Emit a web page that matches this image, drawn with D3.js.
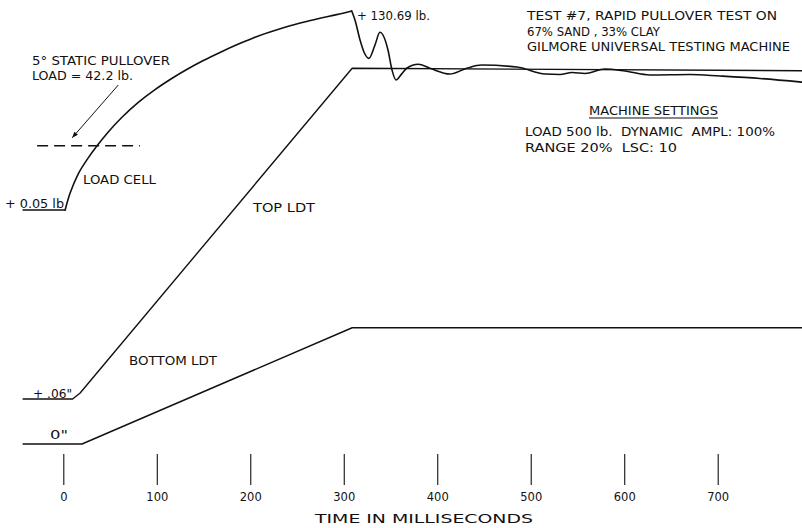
<!DOCTYPE html>
<html><head><meta charset="utf-8">
<script src="https://cdn.jsdelivr.net/npm/d3@7"></script>
<style>
body{margin:0;background:#fff}
svg{display:block}
text{font-family:'DejaVu Sans',sans-serif;fill:#111}
</style>
</head><body><svg id="c" width="802" height="528"></svg>
<script>
// ---- data ----
const xTicks = [0, 100, 200, 300, 400, 500, 600, 700];

// load cell (lb) vs time (ms)
const preTime = [-43, 2];
const preLoad = [0.05, 0.05];
const riseTime = [2, 7.2, 16, 26.7, 35.7, 48.1, 62.5, 80.2, 98.1, 116, 132, 149.8, 167.6, 185.5, 203.2, 221.1, 239, 256.7, 274.6, 292.4, 308.5];
const riseLoad = [0.05, 11, 23.8, 34.3, 41.9, 51.3, 60.8, 70.7, 79.1, 86.4, 92.3, 98.2, 103.5, 108.5, 113, 116.9, 120.4, 123.3, 125.9, 128.3, 130.69];
const oscTime = [308.5, 312, 317.4, 321.6, 327, 333.4, 338.7, 347.3, 351.6, 355.9, 362, 367.3, 379.7, 392.2, 413.6, 431.5, 447.5, 485.3, 515.3, 531.3, 544.1, 558, 579.4, 600.8, 627.5, 670.3, 702.4, 745.2, 790];
const oscLoad = [130.69, 124.8, 111.7, 103.8, 99.6, 108.4, 116.7, 105.1, 92, 85.4, 89.4, 93.1, 95.7, 93.1, 89.3, 93.1, 95.2, 93.9, 89.3, 89, 90.3, 89.7, 92.6, 91.3, 88.7, 89, 88, 86.4, 84.0];

// LDT displacement (in) vs time (ms)
const topTime = [-43, 10, 18, 309, 790];
const topDisp = [0.06, 0.06, 0.068, 0.501, 0.4977];
const botTime = [-43, 20, 309, 790];
const botDisp = [0, 0, 0.155, 0.155];

// static pullover load reference
const staticLoad = 42.2;
const staticSpan = [-28, 82];
const arrowTime = [58.8, 9.5];
const arrowLoad = [82.1, 47.45];

// ---- scales ----
const svg = d3.select('#c');
const x = d3.scaleLinear().domain([0, 700]).range([63.3, 717.7]);
const yLoad = d3.scaleLinear().domain([0.05, 130.69]).range([210, 11]);
const yDisp = d3.scaleLinear().domain([0, 0.06]).range([444, 399]);

const zip = (a, b) => a.map((v, i) => [v, b[i]]);
const ink = '#111';

const lineLoad = d3.line().x(d => x(d[0])).y(d => yLoad(d[1]));
const smoothLoad = d3.line().x(d => x(d[0])).y(d => yLoad(d[1])).curve(d3.curveCatmullRom.alpha(0.5));
const waveLoad = d3.line().x(d => x(d[0])).y(d => yLoad(d[1])).curve(d3.curveMonotoneX);
const lineDisp = d3.line().x(d => x(d[0])).y(d => yDisp(d[1]));

const g = svg.append('g').attr('fill', 'none').attr('stroke', ink).attr('stroke-width', 1.6)
  .attr('stroke-linejoin', 'round').attr('stroke-linecap', 'round');

g.append('path').attr('d', lineLoad(zip(preTime, preLoad)));
g.append('path').attr('d', smoothLoad(zip(riseTime, riseLoad)));
g.append('path').attr('d', waveLoad(zip(oscTime, oscLoad)));
g.append('path').attr('d', lineDisp(zip(topTime, topDisp))).attr('stroke-width', 1.4);
g.append('path').attr('d', lineDisp(zip(botTime, botDisp))).attr('stroke-width', 1.4);

// dashed static load line
svg.append('line')
  .attr('x1', x(staticSpan[0])).attr('x2', x(staticSpan[1]))
  .attr('y1', yLoad(staticLoad)).attr('y2', yLoad(staticLoad))
  .attr('stroke', ink).attr('stroke-width', 1.4).attr('stroke-dasharray', '11,6');

// arrow
svg.append('defs').append('marker').attr('id', 'ah')
  .attr('viewBox', '0 0 10 10').attr('refX', 10).attr('refY', 5)
  .attr('markerWidth', 9).attr('markerHeight', 6).attr('markerUnits', 'userSpaceOnUse')
  .attr('orient', 'auto')
  .append('path').attr('d', 'M0,1 L10,5 L0,9 Z').attr('fill', ink);
svg.append('line')
  .attr('x1', x(arrowTime[0])).attr('y1', yLoad(arrowLoad[0]))
  .attr('x2', x(arrowTime[1])).attr('y2', yLoad(arrowLoad[1]))
  .attr('stroke', ink).attr('stroke-width', 1).attr('marker-end', 'url(#ah)');

// axis
const axis = d3.axisBottom(x).tickValues(xTicks).tickSize(31).tickPadding(8).tickFormat(d3.format('d'));
const ax = svg.append('g').attr('transform', 'translate(0,454)').call(axis);
ax.select('.domain').remove();
ax.selectAll('.tick line').attr('stroke', ink).attr('stroke-width', 1.1);
ax.selectAll('.tick text').attr('fill', ink).style('font-size', '11.5px')
  .style('font-family', "'DejaVu Sans',sans-serif");

// labels
const labels = [
  {t: '5° STATIC PULLOVER', x: 32, y: 65, w: 138},
  {t: 'LOAD = 42.2 lb.', x: 32, y: 80, w: 101},
  {t: 'LOAD CELL', x: 83, y: 184, w: 73},
  {t: '+ 0.05 lb', x: 5, y: 207.5, w: 59},
  {t: 'TOP LDT', x: 253, y: 211.5, w: 62},
  {t: 'BOTTOM LDT', x: 129, y: 364.5, w: 88},
  {t: '+ .06"', x: 33, y: 397.5, w: 39},
  {t: '0"', x: 50, y: 439, w: 18},
  {t: '+ 130.69 lb.', x: 357, y: 19.5, w: 73},
  {t: 'TEST #7, RAPID PULLOVER TEST ON', x: 527, y: 19.5, w: 250},
  {t: '67% SAND , 33% CLAY', x: 527, y: 35.5, w: 133},
  {t: 'GILMORE UNIVERSAL TESTING MACHINE', x: 527, y: 51, w: 263},
  {t: 'MACHINE SETTINGS', x: 589, y: 114.5, w: 129},
  {t: 'LOAD 500 lb.  DYNAMIC  AMPL: 100%', x: 525, y: 135.5, w: 250},
  {t: 'RANGE 20%  LSC: 10', x: 525, y: 151.5, w: 152},
  {t: 'TIME IN MILLISECONDS', x: 315, y: 522.5, w: 218}
];
svg.append('g').selectAll('text').data(labels).join('text')
  .attr('x', d => d.x).attr('y', d => d.y)
  .attr('textLength', d => d.w).attr('lengthAdjust', 'spacingAndGlyphs')
  .style('font-size', '12px')
  .style('white-space', 'pre')
  .attr('xml:space', 'preserve')
  .text(d => d.t);

// underline for MACHINE SETTINGS
svg.append('line').attr('x1', 589).attr('x2', 718).attr('y1', 118).attr('y2', 118)
  .attr('stroke', ink).attr('stroke-width', 1.1);
</script>
</body></html>
